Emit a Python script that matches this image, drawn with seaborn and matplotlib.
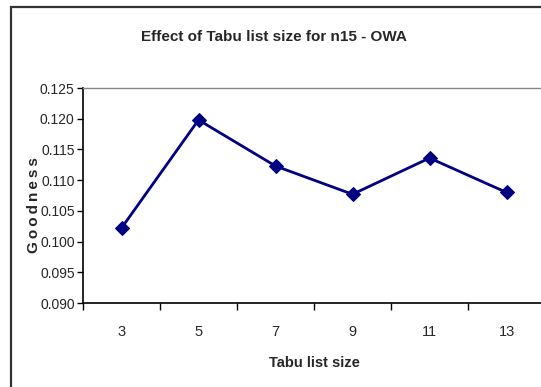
import matplotlib
matplotlib.use("Agg")
import matplotlib.pyplot as plt
from matplotlib.patches import Rectangle
from matplotlib import font_manager
import seaborn as sns
import numpy as np

# Tabu list sizes and the goodness reached with each
tabu_sizes = ["3", "5", "7", "9", "11", "13"]
goodness = [0.1022, 0.1198, 0.1123, 0.1077, 0.1136, 0.1080]
y_ticks = [0.090, 0.095, 0.100, 0.105, 0.110, 0.115, 0.120, 0.125]

sns.set_style("white")
names = {f.name for f in font_manager.fontManager.ttflist}
family = "Liberation Sans Narrow" if "Liberation Sans Narrow" in names else "Liberation Sans"
plt.rcParams["font.family"] = [family, "DejaVu Sans"]

W, H = 541, 387
fig = plt.figure(figsize=(W / 100, H / 100), dpi=100)
fig.patch.set_facecolor("white")

# chart frame (runs past the right and bottom edges)
fig.patches.append(Rectangle((11 / W, -0.05), 1.1, 1 - 7 / H + 0.05,
                             transform=fig.transFigure, fill=False,
                             edgecolor="#333333", linewidth=1.6))

left, right, top, bottom = 83, 545, 88, 303
ax = fig.add_axes([left / W, 1 - bottom / H, (right - left) / W, (bottom - top) / H])

idx = np.arange(len(tabu_sizes))
sns.lineplot(x=idx, y=goodness, ax=ax, color="#000080", linewidth=2.0,
             marker="D", markersize=7, markeredgecolor="#000080")

ax.set_xlim(-0.5, len(tabu_sizes) - 0.5)
ax.set_ylim(y_ticks[0], y_ticks[-1])

# category boundaries carry the tick marks, labels sit at the centres
ax.set_xticks(np.arange(-0.5, len(tabu_sizes)), labels=[""] * (len(tabu_sizes) + 1))
ax.set_xticks(idx, labels=tabu_sizes, minor=True)
ax.tick_params(axis="x", which="major", direction="out", length=5, width=1, color="black", bottom=True)
ax.tick_params(axis="x", which="minor", length=0, pad=16, labelsize=10.5)
ax.set_yticks(y_ticks, labels=[f"{v:.3f}" for v in y_ticks])
ax.tick_params(axis="y", direction="out", length=4, width=1, color="black", left=True,
               labelsize=10, pad=2)

for s in ["left", "bottom"]:
    ax.spines[s].set_color("black")
    ax.spines[s].set_linewidth(1.2)
ax.spines["top"].set_color("#888888")
ax.spines["top"].set_linewidth(1.0)
ax.spines["right"].set_visible(False)

ax.set_xlabel("Tabu list size", fontsize=10.5, fontweight="bold", labelpad=12)
ax.set_ylabel("\u2009".join("Goodness"), fontsize=11, fontweight="bold")
ax.yaxis.set_label_coords(-0.091, 0.456)

fig.text(274 / W, 1 - 37 / H, "Effect of Tabu list size for n15 - OWA",
         ha="center", va="center", fontsize=11, fontweight="bold")

fig.savefig("out.png", dpi=100)
